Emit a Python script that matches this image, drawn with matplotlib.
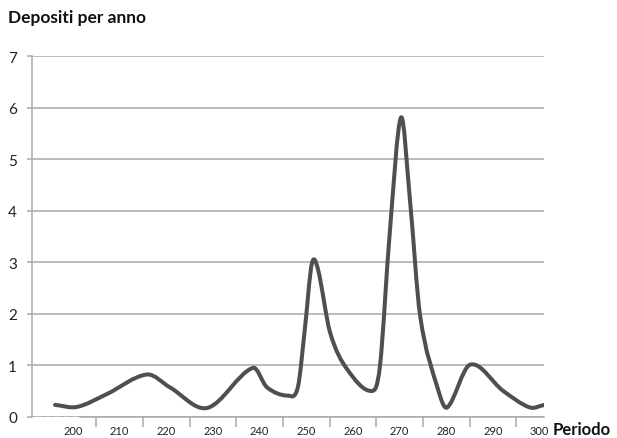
import matplotlib
matplotlib.use("Agg")
import matplotlib.pyplot as plt
import numpy as np
from matplotlib.path import Path
from matplotlib.patches import PathPatch

# Dati (periodo, depositi per anno)
periodi = [196.2, 200.9, 207.3, 215.9, 220.8, 228.8, 238.6, 241.6, 246.1,
           248.2, 249.7, 251.2, 252.5, 255.1, 258.7, 264.1, 265.8, 267.9,
           270.3, 272.2, 274.4, 278.2, 280.2, 285.1, 292.2, 297.9, 301.0]
depositi = [0.23, 0.19, 0.44, 0.82, 0.57, 0.17, 0.95, 0.57, 0.41,
            0.57, 1.70, 2.97, 2.87, 1.64, 0.93, 0.50, 0.99, 3.58,
            5.81, 4.23, 1.96, 0.54, 0.18, 1.01, 0.50, 0.18, 0.23]
etichette_x = [200, 210, 220, 230, 240, 250, 260, 270, 280, 290, 300]
valori_y = [0, 1, 2, 3, 4, 5, 6, 7]

plt.rcParams["font.family"] = ["Lato", "DejaVu Sans"]

GRIGIO = "#a9a9a9"
LINEA = "#4f4f4f"


def curva_smussata(x, y):
    """Curva di Bezier cubica che passa per i punti (stile Excel)."""
    x = np.asarray(x, float)
    y = np.asarray(y, float)
    n = len(x)
    m = np.zeros(n)
    m[1:-1] = (y[2:] - y[:-2]) / (x[2:] - x[:-2])
    m[0] = (y[1] - y[0]) / (x[1] - x[0])
    m[-1] = (y[-1] - y[-2]) / (x[-1] - x[-2])
    verts = [(x[0], y[0])]
    codes = [Path.MOVETO]
    for i in range(n - 1):
        dx = (x[i + 1] - x[i]) / 3
        verts += [(x[i] + dx, y[i] + m[i] * dx),
                  (x[i + 1] - dx, y[i + 1] - m[i + 1] * dx),
                  (x[i + 1], y[i + 1])]
        codes += [Path.CURVE4] * 3
    return Path(verts, codes)


fig = plt.figure(figsize=(6.17, 4.39), dpi=100)
ax = fig.add_axes([0.0514, 0.0485, 0.8308, 0.8210])
ax.set_xlim(191.2, 301.0)
ax.set_ylim(0, 7)

# griglia orizzontale
ax.set_yticks(valori_y)
ax.yaxis.grid(True, color=GRIGIO, linewidth=1.1)
ax.set_axisbelow(True)
ax.axhline(0, xmin=0, xmax=0.094, color=GRIGIO, linewidth=1.1,
           linestyle=(0, (3, 3)))

for lato in ("top", "right"):
    ax.spines[lato].set_visible(False)
ax.spines["left"].set_color(GRIGIO)
ax.spines["left"].set_linewidth(1.1)
ax.spines["bottom"].set_color(GRIGIO)
ax.spines["bottom"].set_linewidth(1.1)
ax.spines["bottom"].set_bounds(201.6, 301.0)

ax.tick_params(axis="y", length=3.6, width=1.1, color=GRIGIO, pad=7,
               labelsize=11, labelcolor="#222222")
ax.set_xticks(etichette_x)
ax.set_xticks([e + 5 for e in etichette_x[:-1]], minor=True)
ax.tick_params(axis="x", which="major", length=0, pad=6, labelsize=8,
               labelcolor="#222222")
ax.tick_params(axis="x", which="minor", length=7.2, width=1.1, color=GRIGIO)

ax.add_patch(PathPatch(curva_smussata(periodi, depositi), facecolor="none",
                       edgecolor=LINEA, linewidth=2.9, capstyle="round",
                       joinstyle="round"))

fig.text(8 / 617, 1 - 18 / 439, "Depositi per anno", fontsize=12.5,
         fontweight="bold", ha="left", va="center", color="#111111")
fig.text(553 / 617, 1 - 430 / 439, "Periodo", fontsize=12,
         fontweight="bold", ha="left", va="center", color="#111111")

fig.savefig("out.png", dpi=100)
plt.close(fig)
